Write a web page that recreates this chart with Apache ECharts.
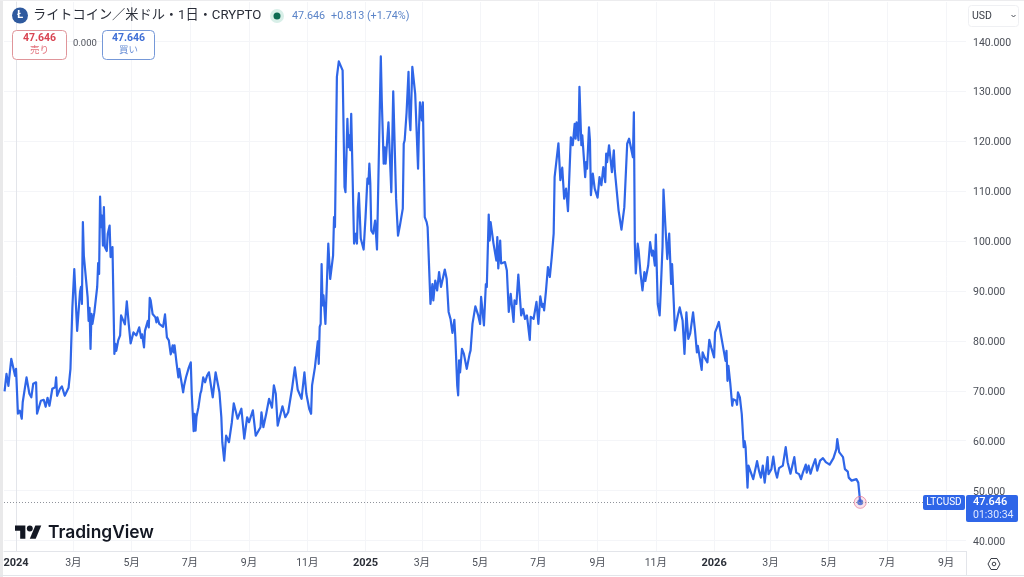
<!DOCTYPE html>
<html lang="ja">
<head>
<meta charset="utf-8">
<title>LTCUSD</title>
<script src="https://cdn.jsdelivr.net/npm/echarts@6/dist/echarts.min.js"></script>
<style>
  html, body { margin: 0; padding: 0; background: #fff; }
  #chart { width: 1024px; height: 577px; }
</style>
</head>
<body>
<div id="chart"></div>
<script>
// LTC/USD daily closes. `days` counts days from 2024-01-01.
const days = [-12,-10,-8,-5,-1,0,2,4,6,7,8,11,14,16,17,18,21,22,24,26,29,31,33,35,38,41,42,43,46,48,51,53,55,57,59,61,64,67,68,69,70,71,73,75,76,77,78,79,80,82,85,86,87,88,89,90,91,92,93,95,96,98,99,101,103,104,105,107,109,110,112,114,116,118,119,120,123,126,127,129,131,132,134,135,138,139,140,141,143,146,147,148,150,154,156,158,160,161,162,164,165,166,168,170,171,173,175,176,178,179,181,183,184,186,187,188,189,191,193,194,196,198,200,202,206,209,213,215,216,218,220,222,223,226,228,232,234,236,239,242,244,248,251,256,257,259,262,265,268,270,272,274,276,279,282,285,289,292,295,297,299,302,304,307,309,310,313,316,317,318,319,320,321,322,324,327,329,330,332,333,334,336,338,340,342,344,345,347,348,349,350,351,354,356,357,358,359,361,364,366,367,368,369,370,371,372,374,376,378,382,383,385,386,387,390,393,395,398,400,402,405,406,407,409,411,412,413,415,418,421,422,423,425,426,428,430,431,434,436,437,439,441,443,445,449,451,453,455,457,459,460,462,463,464,465,467,469,472,475,476,478,481,484,486,487,490,492,493,495,496,497,500,502,503,504,505,507,508,512,514,516,518,521,522,524,526,529,531,533,535,538,539,542,545,547,549,551,552,553,555,557,559,561,563,564,566,568,570,572,574,576,578,579,581,583,585,586,587,589,590,591,592,593,596,597,598,600,601,602,604,605,606,609,611,613,615,617,618,619,621,624,626,627,629,631,632,634,637,638,640,642,643,646,647,648,649,651,652,654,656,658,659,662,664,666,667,669,670,672,674,675,677,678,680,682,684,686,687,688,690,693,695,698,700,702,704,706,709,711,713,714,718,719,721,724,726,728,729,731,732,734,736,738,740,743,744,745,746,748,750,751,754,755,756,758,760,762,763,764,766,767,769,772,776,778,780,782,784,785,787,788,791,793,795,797,799,803,806,808,810,811,815,817,820,822,824,827,828,830,832,834,837,839,842,845,848,852,854,856,858,859,860,862,864,866,868,871,872,875,877,880,882,884];
const closes = [69.9,73.4,71.0,76.4,73.0,74.4,65.4,66.0,64.4,67.7,67.4,72.7,69.4,68.7,68.4,71.4,71.7,65.4,65.5,68.0,68.2,66.8,68.6,67.0,70.4,70.7,72.7,69.0,70.4,70.9,69.0,68.7,70.6,74.4,86.7,94.4,82.0,89.8,90.8,87.4,103.8,97.1,96.9,88.7,84.0,86.6,78.4,85.4,83.4,85.7,90.8,95.6,93.4,108.9,102.8,105.1,99.1,106.8,98.8,98.0,101.4,103.1,96.8,98.8,77.4,79.4,78.0,80.1,81.1,85.1,85.4,83.3,87.9,83.4,83.7,79.5,81.7,81.1,80.7,82.7,80.6,81.3,78.7,82.0,84.0,82.7,88.6,88.1,85.4,84.7,83.7,84.7,83.4,82.8,85.3,80.7,80.1,80.2,77.3,79.1,77.7,79.1,75.7,72.7,74.4,74.0,69.7,71.0,72.7,72.7,74.7,75.7,69.4,61.9,65.4,62.0,64.8,66.7,69.4,70.0,72.7,71.7,73.0,73.7,68.7,73.7,69.7,64.7,59.7,56.0,61.0,61.0,59.7,63.7,67.5,64.4,64.1,66.4,60.4,64.7,63.7,66.1,61.0,62.7,65.7,62.7,65.4,68.4,66.6,71.1,69.4,63.0,63.4,66.9,64.7,65.7,70.4,74.7,70.2,70.4,68.4,73.7,69.4,66.4,65.4,71.1,74.7,79.9,75.4,82.8,83.4,95.4,87.1,89.1,83.4,99.5,92.4,92.8,97.1,104.8,102.8,132.9,136.0,136.0,134.2,110.8,109.8,124.5,118.8,121.2,118.2,125.5,99.5,101.5,99.5,106.8,109.6,100.5,98.3,104.8,105.1,112.5,111.5,115.5,111.5,102.1,101.5,104.1,98.3,137.0,128.2,115.5,118.8,115.5,123.8,109.8,130.0,108.5,101.1,103.1,106.5,119.5,120.2,125.8,133.9,124.8,122.2,134.9,129.5,114.5,122.8,127.8,124.2,127.8,104.8,103.8,102.8,87.4,91.4,88.1,92.1,90.1,93.8,90.8,94.3,92.4,85.8,84.4,81.6,84.2,80.8,71.1,69.1,76.1,73.7,78.4,77.4,74.4,77.4,78.1,83.4,86.9,85.1,83.4,88.8,83.1,91.4,90.8,105.3,100.1,103.8,99.5,99.1,96.1,100.8,94.5,100.1,95.5,95.8,94.1,85.8,89.4,83.8,88.1,87.4,93.3,85.1,86.4,84.4,85.1,80.2,84.8,84.4,87.8,83.4,88.9,86.8,87.4,86.1,90.1,94.8,92.8,96.8,101.5,112.8,116.2,119.6,112.2,114.7,108.5,110.5,106.0,106.1,120.8,119.2,123.5,120.5,123.8,120.2,130.9,130.9,119.2,121.2,112.8,115.8,114.5,122.8,120.2,109.2,113.5,113.8,110.5,108.7,112.8,111.2,114.8,111.8,117.5,115.8,119.2,113.8,118.2,114.2,113.8,106.1,105.8,102.3,106.8,107.2,119.5,120.5,120.2,116.8,125.8,99.5,93.5,99.5,98.1,93.5,90.1,93.8,92.0,95.1,99.8,97.1,98.1,95.1,101.3,87.4,85.1,89.4,98.8,110.3,103.0,96.4,101.5,91.4,95.4,91.1,82.1,85.1,86.7,84.1,77.4,85.7,80.4,81.5,85.7,82.1,77.7,79.0,74.2,77.7,76.7,75.7,80.2,78.7,78.8,76.7,81.7,82.7,83.8,81.4,81.0,76.0,78.0,72.0,75.0,71.4,67.0,68.3,68.0,67.2,69.7,68.7,65.3,58.7,59.9,58.7,50.6,55.0,54.7,52.3,55.9,54.0,52.6,55.0,51.6,51.2,56.7,53.3,54.3,56.8,54.0,52.6,54.5,55.0,58.7,55.7,56.0,53.4,56.7,53.6,53.3,52.3,53.6,55.2,53.6,55.0,53.4,54.7,56.3,54.0,56.0,56.5,55.7,55.2,55.0,56.5,56.7,58.3,60.3,57.7,58.1,56.7,54.3,53.8,52.6,52.0,51.6,52.3,51.6,47.646];

// Axis ticks: first of every second month.
const tickDates = ['2024-01-01','2024-03-01','2024-05-01','2024-07-01','2024-09-01','2024-11-01','2025-01-01','2025-03-01','2025-05-01','2025-07-01','2025-09-01','2025-11-01','2026-01-01','2026-03-01','2026-05-01','2026-07-01','2026-09-01'];
const tickLabels = ['2024','3月','5月','7月','9月','11月','2025','3月','5月','7月','9月','11月','2026','3月','5月','7月','9月'];
const priceTicks = [40,50,60,70,80,90,100,110,120,130,140];
const lastPrice = 47.646;

const DAY_MS = 864e5;
const EPOCH = Date.UTC(2024, 0, 1);
const tickDays = tickDates.map(s => (Date.parse(s + 'T00:00:00Z') - EPOCH) / DAY_MS);

const JP_FONT = 'Roboto, "Noto Sans CJK JP", sans-serif';
const BLUE = '#2f66e8';
const GRID = '#f4f5f8';
const EDGE = '#e3e5ea';
const TEXT = '#4a4e57';

const txt = (x, y, text, size, fill, extra) => ({
  type: 'text', x, y, silent: true,
  style: Object.assign({ text, fontSize: size, fill, fontFamily: JP_FONT,
    verticalAlign: 'middle' }, extra || {})
});
const box = (x, y, w, h, r, fill, stroke) => ({
  type: 'rect', silent: true,
  shape: { x, y, width: w, height: h, r },
  style: { fill, stroke, lineWidth: stroke ? 1 : 0 }
});
// Logo pieces share one offset and scale.
const logoPart = (type, shape) => ({
  type, shape, silent: true, x: 15, y: 522.5, scaleX: 0.74, scaleY: 0.74,
  style: { fill: '#131722' }
});

// Overlay elements, kept above grid lines and the price line.
const overlay = [
  // Pane edges
  box(0, 0, 3, 577, 0, '#e9e9ea'),
  box(0, 0, 1024, 1, 0, '#ececee'),
  box(0, 575, 1024, 1, 0, EDGE),
  box(966, 551, 1, 25, 0, EDGE),

  // Symbol header
  { type: 'circle', silent: true, shape: { cx: 20, cy: 15.5, r: 8 }, style: { fill: '#2f5a9e' } },
  txt(20, 15.5, 'Ł', 11, '#ffffff', { align: 'center', fontWeight: 700 }),
  txt(33, 16, 'ライトコイン／米ドル・1日・CRYPTO', 13.2, '#2a2e39'),
  { type: 'circle', silent: true, shape: { cx: 277, cy: 16, r: 7 }, style: { fill: '#d8efe8' } },
  { type: 'circle', silent: true, shape: { cx: 277, cy: 16, r: 3.5 }, style: { fill: '#0d6b52' } },
  txt(292, 16, '47.646', 10.8, '#5b84c8'),
  txt(331, 16, '+0.813 (+1.74%)', 10.8, '#5b84c8'),

  // Sell / spread / buy
  box(12.5, 30.5, 54, 29, 4, '#ffffff', '#e0959a'),
  txt(39.5, 38.5, '47.646', 10.5, '#d94452', { align: 'center', fontWeight: 700 }),
  txt(39.5, 50.5, '売り', 9.5, '#e2707a', { align: 'center' }),
  txt(73, 44, '0.000', 9.5, '#50535c'),
  box(102.5, 30.5, 52, 29, 4, '#ffffff', '#7598d8'),
  txt(128.5, 38.5, '47.646', 10.5, '#3f6fd6', { align: 'center', fontWeight: 700 }),
  txt(128.5, 50.5, '買い', 9.5, '#6a8fd6', { align: 'center' }),

  // Currency selector
  box(968.5, 5.5, 50, 21, 3, '#ffffff', '#eff0f3'),
  txt(972, 16, 'USD', 10.5, '#3a3e47'),
  {
    type: 'polyline', silent: true,
    shape: { points: [[1011.5, 15], [1013.5, 17], [1015.5, 15]] },
    style: { fill: 'none', stroke: '#4a4e57', lineWidth: 1 }
  },

  // Wordmark
  logoPart('polygon', { points: [[0, 4], [14, 4], [14, 22], [7, 22], [7, 11], [0, 11]] }),
  logoPart('polygon', { points: [[20, 22], [28, 22], [35.5, 4], [27.5, 4]] }),
  logoPart('circle', { cx: 20, cy: 8, r: 4 }),
  txt(48, 533, 'TradingView', 17.4, '#131722', { fontFamily: 'Inter, Roboto, sans-serif', fontWeight: 600 }),

  // Last price tags
  box(923, 495, 42, 15, 2, BLUE),
  txt(944, 502.5, 'LTCUSD', 10, '#ffffff', { align: 'center' }),
  box(966, 495, 52, 27, 2, BLUE),
  txt(973, 502, '47.646', 11, '#ffffff', { fontWeight: 500 }),
  txt(973, 515, '01:30:34', 10.5, '#dfe8ff'),

  // Settings glyph
  {
    type: 'polygon', silent: true,
    shape: { points: [[988, 564], [991, 558.5], [997, 558.5], [1000, 564], [997, 569.5], [991, 569.5]] },
    style: { fill: 'none', stroke: '#3a3e47', lineWidth: 1 }
  },
  { type: 'circle', silent: true, shape: { cx: 994, cy: 564, r: 1.8 }, style: { fill: 'none', stroke: '#3a3e47', lineWidth: 1 } }
].map(el => Object.assign({ z: 20 }, el));

const chart = echarts.init(document.getElementById('chart'), null, { renderer: 'canvas' });

chart.setOption({
  animation: false,
  backgroundColor: '#ffffff',
  grid: { left: 4, right: 58, top: 2, bottom: 26, containLabel: false },
  xAxis: {
    type: 'value',
    min: -12.6,
    max: 994.8,
    axisLine: { show: true, onZero: false, lineStyle: { color: EDGE, width: 1 } },
    axisTick: { show: false, customValues: tickDays },
    splitLine: { show: true, lineStyle: { color: GRID, width: 1 } },
    axisLabel: {
      customValues: tickDays,
      showMinLabel: true,
      showMaxLabel: true,
      margin: 7,
      fontSize: 10.5,
      fontFamily: JP_FONT,
      color: TEXT,
      formatter: value => {
        const label = tickLabels[tickDays.indexOf(value)];
        return /^\d{4}$/.test(label) ? '{year|' + label + '}' : label;
      },
      rich: { year: { fontWeight: 700, fontSize: 11, color: '#2b2f38', fontFamily: JP_FONT } }
    }
  },
  yAxis: {
    type: 'value',
    position: 'right',
    min: 37.9,
    max: 147.9,
    axisLine: { show: true, lineStyle: { color: EDGE, width: 1 } },
    axisTick: { show: false, customValues: priceTicks },
    splitLine: { show: true, lineStyle: { color: GRID, width: 1 } },
    axisLabel: {
      customValues: priceTicks,
      margin: 7,
      fontSize: 10.5,
      fontFamily: JP_FONT,
      color: TEXT,
      formatter: v => '{p|' + v.toFixed(3) + '}',
      rich: { p: { padding: [3, 0, 0, 0], fontSize: 10.5, color: TEXT, fontFamily: JP_FONT } }
    }
  },
  series: [
    {
      type: 'line',
      data: days.map((d, i) => [d, closes[i]]),
      showSymbol: false,
      smooth: false,
      clip: true,
      lineStyle: { color: BLUE, width: 2.2, join: 'round' },
      markLine: {
        silent: true,
        symbol: 'none',
        label: { show: false },
        lineStyle: { color: '#8f939b', type: [1, 2], width: 1 },
        data: [{ yAxis: lastPrice }]
      }
    },
    {
      type: 'scatter',
      data: [[days[days.length - 1], lastPrice]],
      symbolSize: 12,
      z: 3,
      itemStyle: { color: 'rgba(236,130,160,0.28)', borderColor: 'rgba(226,110,140,0.8)', borderWidth: 1 }
    },
    {
      type: 'scatter',
      data: [[days[days.length - 1], lastPrice]],
      symbolSize: 6,
      z: 4,
      itemStyle: { color: '#3a5fd0' }
    }
  ],
  graphic: overlay
});
</script>
</body>
</html>
